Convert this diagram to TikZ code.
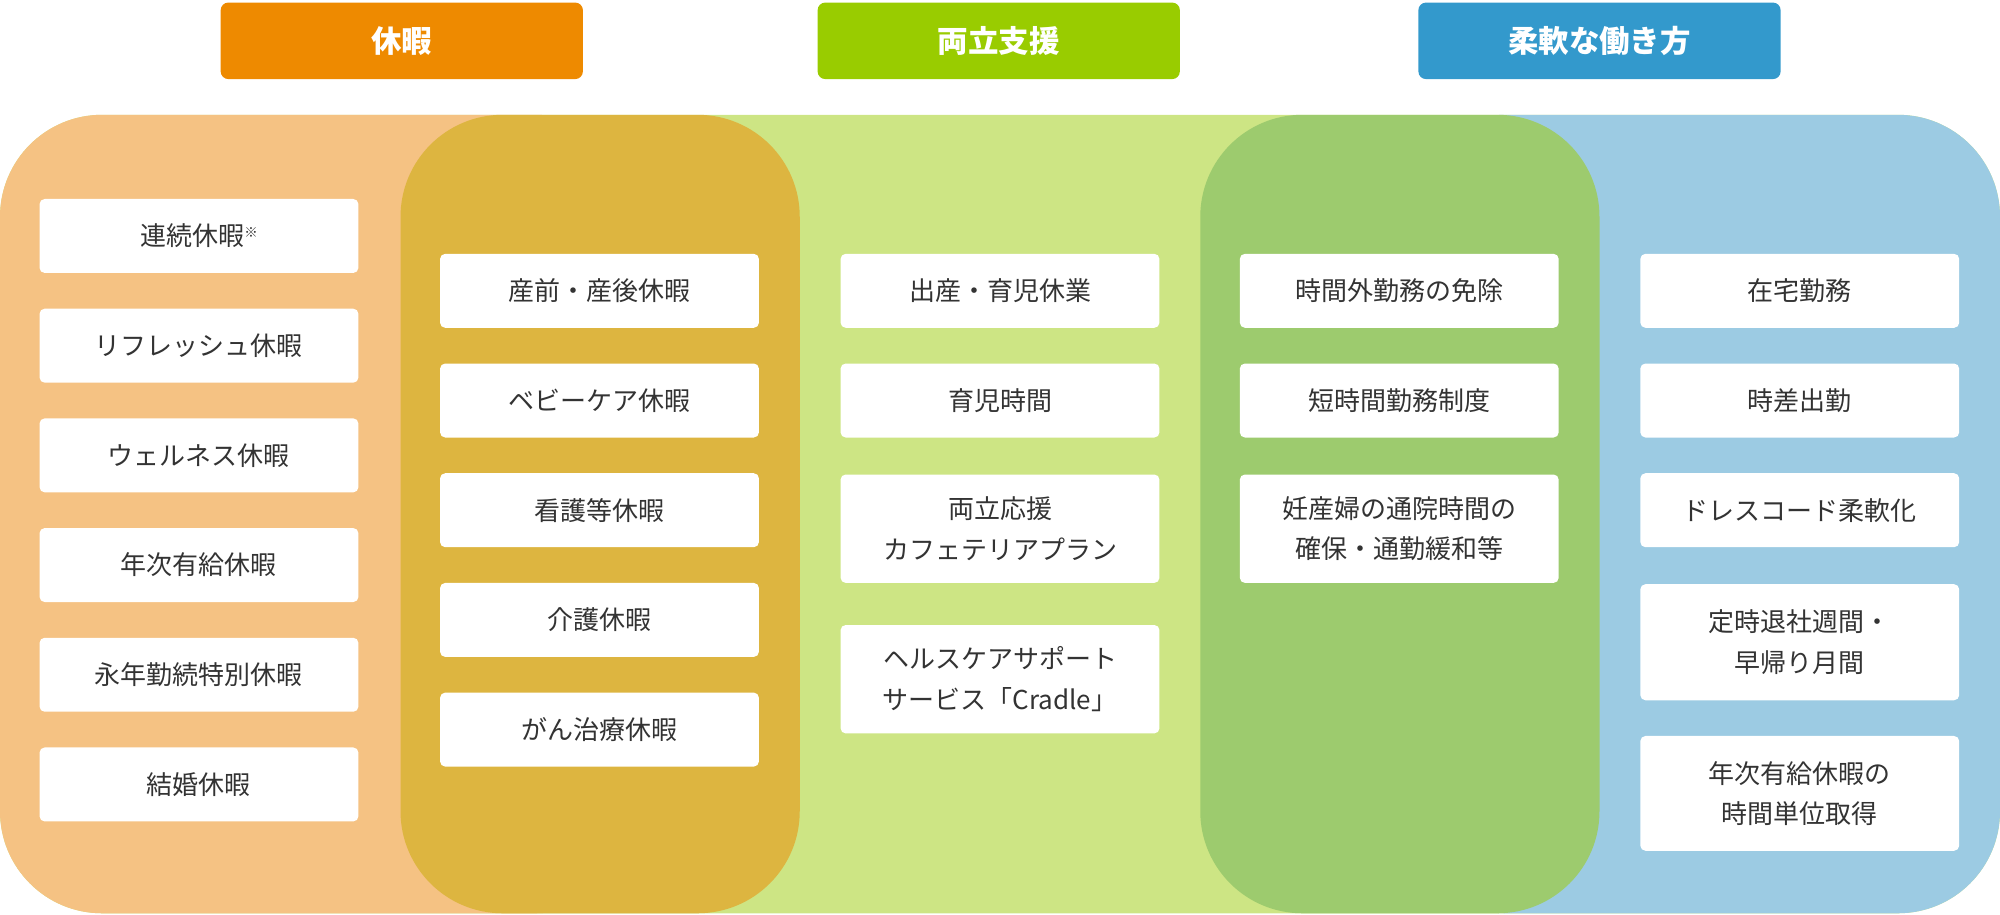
\documentclass[tikz,border=0pt]{standalone}
\usepackage{fontspec}
\setmainfont{Noto Sans CJK JP}
\usetikzlibrary{positioning}
\definecolor{kyukaC}{HTML}{EE8A00}
\definecolor{ryoC}{HTML}{99CC00}
\definecolor{juC}{HTML}{3399CC}
\definecolor{kyukaL}{HTML}{F5C283}
\definecolor{kyukaD}{HTML}{DDB540}
\definecolor{ryoL}{HTML}{CDE584}
\definecolor{ryoD}{HTML}{9DCB6E}
\definecolor{juL}{HTML}{9CCBE3}
\definecolor{txt}{HTML}{333333}
\tikzset{
  head/.style={fill=#1, text=white, rounded corners=0.3cm, minimum width=14.2cm,
    minimum height=3cm, font=\fontsize{34}{40}\selectfont\bfseries},
  item/.style={fill=white, text=txt, rounded corners=0.2cm, minimum width=12.5cm,
    minimum height=2.9cm, align=center, font=\fontsize{29}{45}\selectfont},
}
\begin{document}
\begin{tikzpicture}[x=0.05cm, y=-0.05cm]
  \useasboundingbox (0,0) rectangle (1568,717);

  % bands
  \fill [ryoL, rounded corners=4cm] (0,90) rectangle (1568,716);
  \fill [kyukaL, rounded corners=4cm] (0,90) rectangle (500,716);
  \fill [kyukaL] (300,90) rectangle (500,716);
  \fill [juL, rounded corners=4cm] (1100,90) rectangle (1568,716);
  \fill [juL] (1100,90) rectangle (1300,716);
  \fill [kyukaD, rounded corners=4cm] (314,90) rectangle (627,716);
  \fill [ryoD, rounded corners=4cm] (941,90) rectangle (1254,716);

  % headers
  \node [head=kyukaC] (hKyuka) at (315,32) {休暇};
  \node [head=ryoC] (hRyo) at (783,32) {両立支援};
  \node [head=juC] (hJu) at (1254,32) {柔軟な働き方};

  % column 1
  \node [item] (a1) at (156,185) {連続休暇\raisebox{0.6ex}{\fontsize{15}{16}\selectfont ※}};
  \node [item] (a2) at (156,271) {リフレッシュ休暇};
  \node [item] (a3) at (156,357) {ウェルネス休暇};
  \node [item] (a4) at (156,443) {年次有給休暇};
  \node [item] (a5) at (156,529) {永年勤続特別休暇};
  \node [item] (a6) at (156,615) {結婚休暇};

  % column 2
  \node [item] (b1) at (470,228) {産前・産後休暇};
  \node [item] (b2) at (470,314) {ベビーケア休暇};
  \node [item] (b3) at (470,400) {看護等休暇};
  \node [item] (b4) at (470,486) {介護休暇};
  \node [item] (b5) at (470,572) {がん治療休暇};

  % column 3
  \node [item] (c1) at (784,228) {出産・育児休業};
  \node [item] (c2) at (784,314) {育児時間};
  \node [item, minimum height=4.25cm] (c3) at (784,414.5) {両立応援\\カフェテリアプラン};
  \node [item, minimum height=4.25cm] (c4) at (784,532.5) {ヘルスケアサポート\\サービス「Cradle」};

  % column 4
  \node [item] (d1) at (1097,228) {時間外勤務の免除};
  \node [item] (d2) at (1097,314) {短時間勤務制度};
  \node [item, minimum height=4.25cm] (d3) at (1097,414.5) {妊産婦の通院時間の\\確保・通勤緩和等};

  % column 5
  \node [item] (e1) at (1411,228) {在宅勤務};
  \node [item] (e2) at (1411,314) {時差出勤};
  \node [item] (e3) at (1411,400) {ドレスコード柔軟化};
  \node [item, minimum height=4.55cm] (e4) at (1411,503.5) {定時退社週間・\\早帰り月間};
  \node [item, minimum height=4.5cm] (e5) at (1411,622) {年次有給休暇の\\時間単位取得};
\end{tikzpicture}
\end{document}
